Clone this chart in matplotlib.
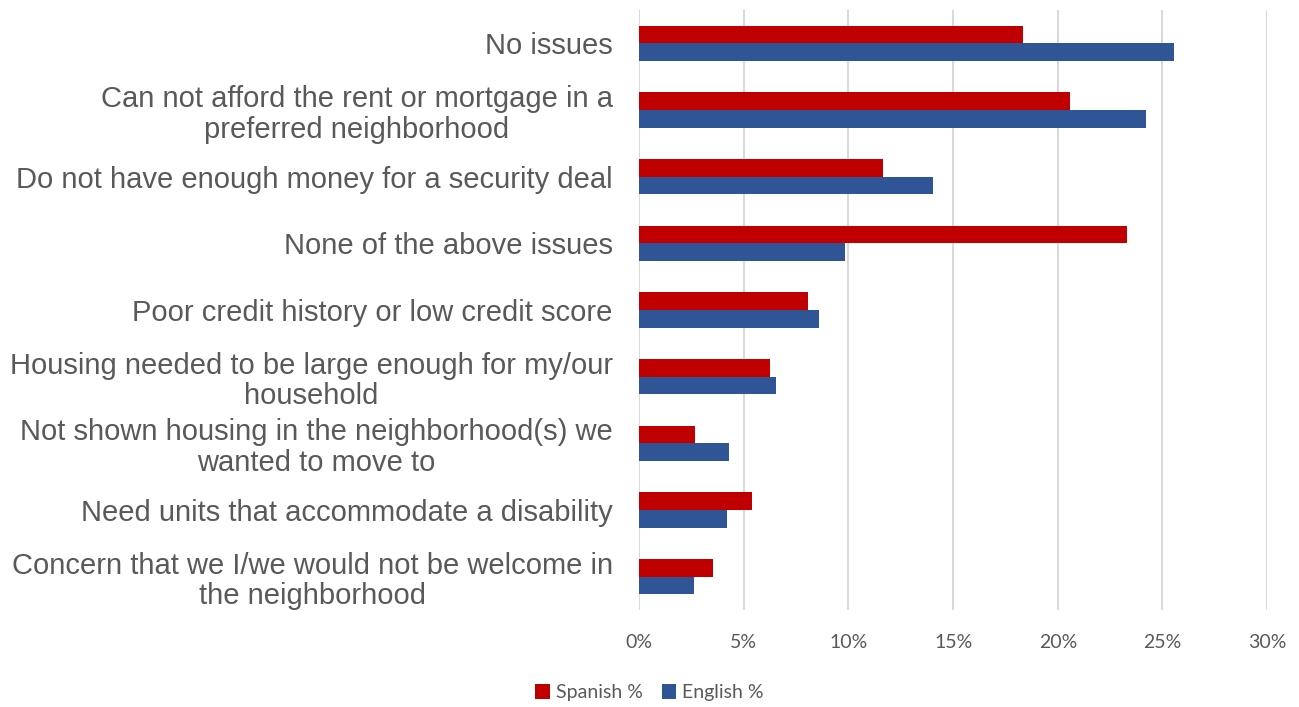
import numpy as np
import matplotlib
matplotlib.use("Agg")
import matplotlib.pyplot as plt

categories = [
    "No issues",
    "Can not afford the rent or mortgage in a\npreferred neighborhood",
    "Do not have enough money for a security deal",
    "None of the above issues",
    "Poor credit history or low credit score",
    "Housing needed to be large enough for my/our\nhousehold",
    "Not shown housing in the neighborhood(s) we\nwanted to move to",
    "Need units that accommodate a disability",
    "Concern that we I/we would not be welcome in\nthe neighborhood",
]
spanish = [18.35, 20.6, 11.65, 23.3, 8.05, 6.25, 2.65, 5.4, 3.55]
english = [25.55, 24.2, 14.05, 9.85, 8.6, 6.55, 4.3, 4.2, 2.6]
xticks = [0, 5, 10, 15, 20, 25, 30]

fig = plt.figure(figsize=(12.99, 7.07), dpi=100)
ax = fig.add_axes([0.492, 0.137, 0.4835, 0.849])

y = np.arange(len(categories))
h = 0.265
ax.barh(y - h / 2, spanish, height=h, color="#C00000", label="Spanish %", zorder=3)
ax.barh(y + h / 2, english, height=h, color="#2F5597", label="English %", zorder=3)

ax.set_ylim(len(categories) - 0.5, -0.5)
ax.set_xlim(0, 30)
ax.set_xticks(xticks)
ax.set_xticklabels([f"{t}%" for t in xticks], fontfamily="Lato", fontsize=14, color="#595959")
ax.set_yticks(y)
ax.set_yticklabels(categories, fontfamily="Liberation Sans", fontsize=21, color="#595959",
                   multialignment="center", linespacing=1.12)
ax.tick_params(axis="both", length=0)
ax.tick_params(axis="y", pad=19)
ax.tick_params(axis="x", pad=17)
ax.grid(axis="x", color="#D9D9D9", linewidth=1.5, zorder=0)
for s in ax.spines.values():
    s.set_visible(False)

fig.legend(loc="center", bbox_to_anchor=(0.5, 0.02), ncol=2, frameon=False,
           prop={"family": "Lato", "size": 14}, handlelength=0.75, handleheight=0.75,
           columnspacing=1.0, handletextpad=0.3, labelcolor="#595959")

fig.savefig("out.png", dpi=100)
